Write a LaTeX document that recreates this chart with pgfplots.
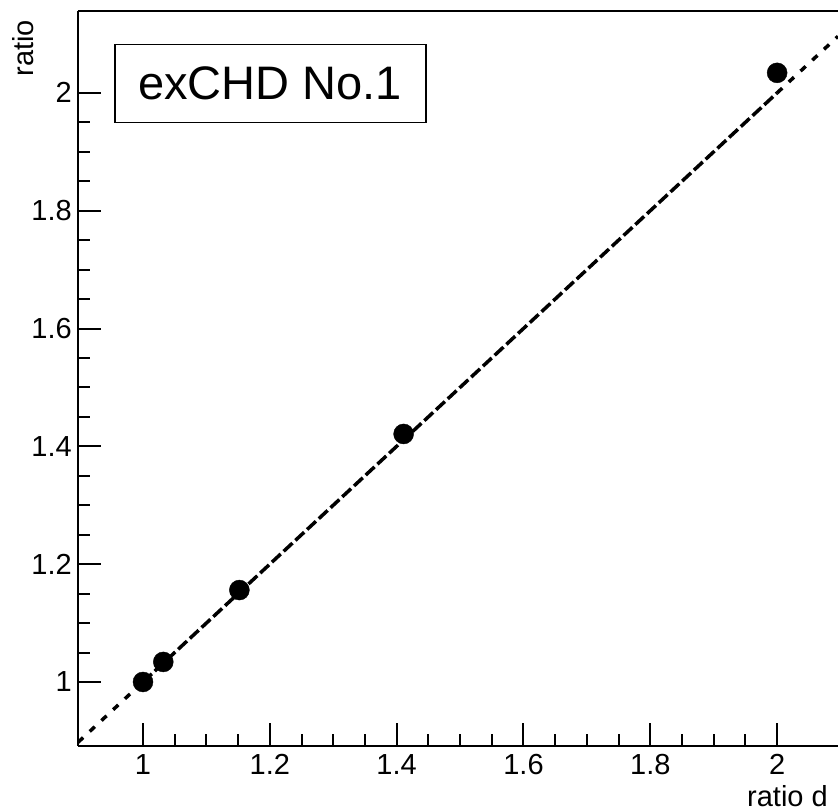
\documentclass[border=0pt]{standalone}
\usepackage{fontspec}
\setmainfont{Liberation Sans}
\usepackage{pgfplots}
\pgfplotsset{compat=1.18}
\begin{document}
\begin{tikzpicture}
\begin{axis}[
  scale only axis,
  width=760pt, height=735pt,
  xmin=0.8975, xmax=2.096,
  ymin=0.8913, ymax=2.139,
  axis x line*=box,
  axis y line*=left,
  axis line style={line width=2pt, -},
  xtick={1,1.2,1.4,1.6,1.8,2},
  ytick={1,1.2,1.4,1.6,1.8,2},
  xticklabels={1,1.2,1.4,1.6,1.8,2},
  yticklabels={1,1.2,1.4,1.6,1.8,2},
  minor x tick num=3,
  minor y tick num=3,
  xtick pos=bottom, ytick pos=left,
  tick align=inside,
  major tick length=23pt,
  minor tick length=12pt,
  every tick/.style={line width=2pt, black},
  tick label style={font=\fontsize{29}{29}\selectfont, inner sep=0pt},
  xticklabel style={yshift=-8pt},
  yticklabel style={xshift=-6pt},
  /pgf/number format/assume math mode=true,
  clip=true,
]
% sparse dashed extensions
\addplot[black, line width=3.5pt, dash pattern=on 7pt off 9pt, forget plot] coordinates {(0.8975,0.8975) (1,1)};
\addplot[black, line width=3.5pt, dash pattern=on 7pt off 9pt, forget plot] coordinates {(2,2) (2.096,2.096)};
% dense dashed fit line
\addplot[black, line width=3.5pt, dash pattern=on 12pt off 4pt, forget plot] coordinates {(1,1) (2,2)};
% data points
\addplot[only marks, mark=*, mark size=10pt, black] coordinates {
  (1,1) (1.032,1.034) (1.152,1.156) (1.411,1.421) (2,2.034)
};
\coordinate (SW) at (rel axis cs:0,0);
\coordinate (NE) at (rel axis cs:1,1);
\coordinate (NW) at (rel axis cs:0,1);
\coordinate (SE) at (rel axis cs:1,0);
\end{axis}
\node[draw, line width=1.5pt, anchor=north west, minimum width=311pt, minimum height=78pt, inner sep=0pt, fill=white, font=\fontsize{47}{47}\selectfont] at ([shift={(36pt,-33pt)}]NW) {exCHD No.1};
\node[anchor=base east, inner sep=0pt, font=\fontsize{29}{29}\selectfont] at ([shift={(-10pt,-61pt)}]SE) {ratio d};
\node[rotate=90, anchor=base east, inner sep=0pt, font=\fontsize{29}{29}\selectfont] at ([shift={(-44pt,-9pt)}]NW) {ratio};
\pgfresetboundingbox
\path[use as bounding box] ([shift={(-78pt,-66pt)}]SW) rectangle ([shift={(0pt,11pt)}]NE);
\end{tikzpicture}
\end{document}
